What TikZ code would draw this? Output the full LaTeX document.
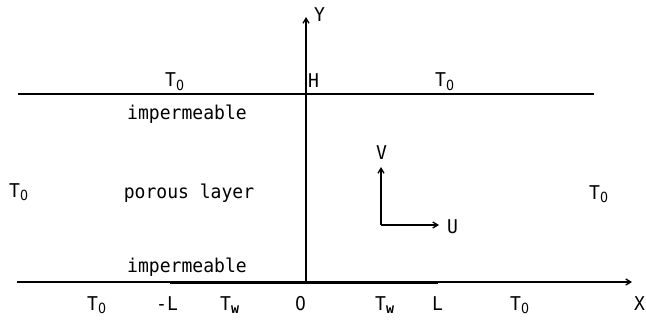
\documentclass[tikz,border=0pt]{standalone}
\usepackage{fontspec}
\setmainfont{DejaVu Sans Mono}[FakeStretch=0.95]
\newfontfamily\zf{DejaVu Sans}[FakeStretch=0.9]
\usetikzlibrary{arrows.meta}
\newcommand{\subz}[1]{\raisebox{-3.5pt}{\fontsize{14}{14}\selectfont #1}}
\newcommand{\Tz}{T\subz{\zf 0}}
\newcommand{\Tw}{T\subz{\bfseries w}}
\begin{document}
\begin{tikzpicture}[x=1pt,y=-1pt,
  lbl/.style={inner sep=0pt, anchor=base west, font=\fontsize{19}{20}\selectfont},
  lblc/.style={inner sep=0pt, anchor=base, font=\fontsize{19}{20}\selectfont},
  thinline/.style={line width=1.3pt},
  arr/.style={-{Straight Barb[length=5pt,width=6pt]}}]
\useasboundingbox (0,0) rectangle (646,321);
% geometry
\coordinate (tl) at (18,94);
\coordinate (tr) at (594,94);
\coordinate (bl) at (17,282);
\coordinate (br) at (632,282);
\coordinate (mL) at (170,282);
\coordinate (pL) at (438,282);
\coordinate (o) at (306,282);
\coordinate (ytip) at (306,17);
\coordinate (c) at (381,225);
\coordinate (vtip) at (381,167);
\coordinate (utip) at (439,225);
\draw[thinline] (tl) -- (tr);
\draw[thinline,arr] (bl) -- (br);
\draw[line width=3pt] (mL) -- (pL);
\draw[thinline,arr] (o) -- (ytip);
\draw[thinline,arr] (c) -- (vtip);
\draw[thinline,arr] (c) -- (utip);
% labels
\node[lbl] (ylab) at (314,22) {Y};
\node[lbl] (hlab) at (308,88) {H};
\node[lbl] (t0tl) at (165,87) {\Tz};
\node[lbl] (t0tr) at (435,87) {\Tz};
\node[lblc] (imp1) at (187,120) {impermeable};
\node[lblc] (por) at (189,198) {porous layer};
\node[lbl] (t0l) at (9,197) {\Tz};
\node[lbl] (t0r) at (589,199) {\Tz};
\node[lblc] (imp2) at (187,272) {impermeable};
\node[lbl] (vlab) at (376,160) {V};
\node[lbl] (ulab) at (447,233) {U};
\node[lbl] (t0b) at (87,310) {\Tz};
\node[lbl] (mlab) at (156,310) {-L};
\node[lbl] (tw1) at (220,310) {\Tw};
\node[lbl] (zlab) at (295,310) {\zf 0};
\node[lbl] (tw2) at (375,310) {\Tw};
\node[lbl] (llab) at (432,310) {L};
\node[lbl] (t0br) at (510,310) {\Tz};
\node[lbl] (xlab) at (634,310) {X};
\end{tikzpicture}
\end{document}
